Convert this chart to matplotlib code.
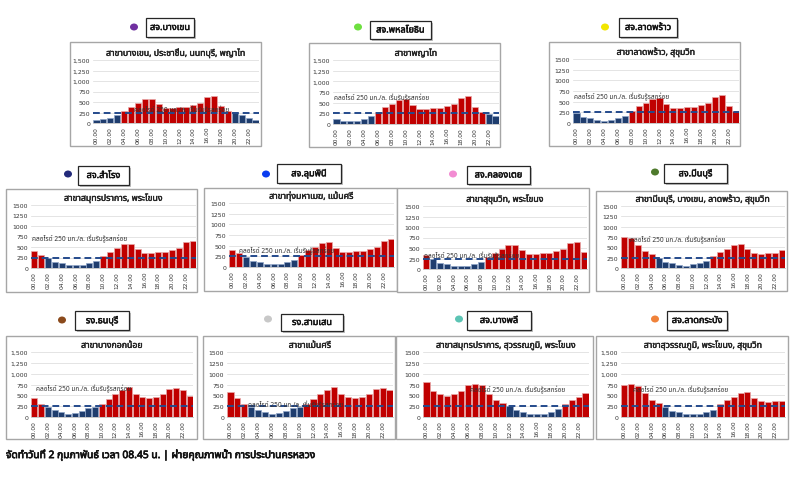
import matplotlib
matplotlib.use("Agg")
import matplotlib.pyplot as plt
from matplotlib import font_manager
import matplotlib.patheffects as pe
from matplotlib.patches import Rectangle, Ellipse
from matplotlib.ticker import FuncFormatter

W, H = 797, 481

# ---------------- data ----------------
hours = ["%02d.00" % h for h in range(24)]

station_labels = ["สจ.บางเขน", "สจ.พหลโยธิน", "สจ.ลาดพร้าว",
                  "สจ.สำโรง", "สจ.ลุมพินี", "สจ.คลองเตย", "สจ.มีนบุรี",
                  "รง.ธนบุรี", "รง.สามเสน", "สจ.บางพลี", "สจ.ลาดกระบัง"]
chart_titles = ["สาขาบางเขน, ประชาชื่น, นนทบุรี, พญาไท", "สาขาพญาไท",
                "สาขาลาดพร้าว, สุขุมวิท",
                "สาขาสมุทรปราการ, พระโขนง", "สาขาทุ่งมหาเมฆ, แม้นศรี",
                "สาขาสุขุมวิท, พระโขนง", "สาขามีนบุรี, บางเขน, ลาดพร้าว, สุขุมวิท",
                "สาขาบางกอกน้อย", "สาขาแม้นศรี",
                "สาขาสมุทรปราการ, สุวรรณภูมิ, พระโขนง",
                "สาขาสุวรรณภูมิ, พระโขนง, สุขุมวิท"]
dot_colors = ["#7030A0", "#6EE040", "#F2E600", "#232A7A", "#0A3CF0",
              "#F28CD2", "#4E7A2C", "#8B4A1C", "#C8C8C8", "#5CC4B4", "#F0823A"]

bangkhen = [60, 90, 125, 180, 290, 390, 470, 560, 580, 450, 360, 350,
            380, 380, 430, 480, 620, 650, 410, 290, 240, 180, 110, 80]
phahon = [110, 80, 60, 80, 120, 180, 290, 390, 470, 560, 580, 450,
          360, 350, 370, 370, 430, 480, 620, 650, 410, 290, 230, 180]
ladprao = [240, 150, 110, 70, 50, 80, 110, 170, 290, 390, 470, 560,
           580, 450, 360, 350, 380, 380, 430, 480, 620, 650, 410, 290]
samrong = [400, 320, 240, 150, 120, 80, 60, 80, 110, 170, 290, 390,
           470, 560, 580, 450, 360, 350, 370, 370, 430, 480, 620, 650]
lumphini = [400, 330, 245, 150, 120, 80, 60, 80, 110, 170, 290, 390,
            470, 560, 580, 450, 360, 350, 380, 380, 430, 480, 620, 650]
khlongtoei = [330, 245, 150, 110, 80, 60, 80, 110, 170, 290, 390, 470,
              560, 580, 450, 360, 350, 380, 380, 430, 480, 620, 650, 410]
minburi = [760, 720, 550, 410, 330, 240, 150, 110, 80, 60, 90, 120,
           170, 290, 390, 470, 560, 580, 450, 360, 350, 370, 370, 430]
thonburi = [440, 300, 220, 170, 120, 80, 90, 150, 200, 220, 290, 410,
            530, 630, 700, 530, 460, 440, 460, 540, 650, 680, 630, 480]
samsen = [580, 440, 310, 220, 170, 120, 80, 90, 150, 200, 220, 290,
          410, 530, 630, 700, 530, 460, 440, 460, 540, 650, 680, 630]
bangphli = [800, 590, 520, 490, 530, 610, 740, 770, 730, 540, 400, 320,
            245, 160, 120, 80, 60, 80, 120, 180, 290, 390, 470, 560]
latkrabang = [730, 760, 720, 550, 400, 320, 230, 150, 120, 80, 60, 80,
              120, 170, 290, 390, 470, 560, 580, 450, 360, 350, 370, 370]

series = [bangkhen, phahon, ladprao, samrong, lumphini, khlongtoei, minburi,
          thonburi, samsen, bangphli, latkrabang]
threshold = 250
y_ticks = [0, 250, 500, 750, 1000, 1250, 1500]
comma_ticks = [True, True, False, False, False, False, False,
               True, False, False, True]
note_text = "คลอไรด์ 250 มก./ล. เริ่มรับรู้รสกร่อย"
footer = "จัดทำวันที่ 2 กุมภาพันธ์ เวลา 08.45 น. | ฝ่ายคุณภาพน้ำ การประปานครหลวง"

# ---------------- layout (pixels) ----------------
frames = [(70, 43, 261, 147), (309, 44, 500, 148), (549, 43, 740, 147),
          (6, 190, 197, 293), (204, 189, 397, 292), (397, 189, 589, 293),
          (596, 192, 787, 292),
          (6, 337, 197, 440), (203, 337, 395, 440), (396, 337, 593, 440),
          (596, 337, 788, 440)]
plots = [(93, 61, 259, 124), (333, 61, 499, 125), (573, 60, 739, 124),
         (31, 206, 196, 269), (229, 204, 394, 268), (423, 207, 587, 270),
         (621, 207, 785, 269),
         (31, 353, 193, 418), (227, 353, 393, 418), (423, 353, 589, 418),
         (621, 353, 785, 418)]
label_boxes = [(146, 19, 194, 38), (370, 22, 431, 40), (619, 19, 677, 38),
               (78, 167, 129, 186), (277, 165, 341, 184), (467, 167, 530, 185),
               (664, 165, 727, 184),
               (75, 312, 129, 331), (281, 315, 343, 332), (467, 312, 531, 331),
               (667, 312, 727, 331)]
dots = [(134, 28), (358, 28), (605, 28), (68, 175), (266, 175), (453, 175),
        (655, 173), (62, 321), (268, 320), (459, 320), (655, 320)]
notes = [(5.5, 330), (-0.4, 640), (-0.4, 640), (-0.4, 700), (1.0, 400),
         (-0.4, 330), (0.8, 700), (0.3, 660), (2.6, 290), (6.3, 650),
         (1.3, 640)]


def find_thai_font():
    try:
        from fontTools.ttLib import TTFont
    except Exception:
        return None
    prefs = ["Noto Sans Thai", "Noto Sans Thai UI", "Tahoma", "Leelawadee UI",
             "Loma", "Garuda", "Sarabun", "Kinnari", "Norasi"]
    found = {}
    for f in font_manager.fontManager.ttflist:
        try:
            tt = TTFont(f.fname, fontNumber=0, lazy=True)
            cmap = tt.getBestCmap()
            if cmap and 0x0E01 in cmap and 0x0E33 in cmap:
                found[f.name] = True
        except Exception:
            pass
    for p in prefs:
        if p in found:
            return p
    return sorted(found)[0] if found else None


thai = find_thai_font()
thai_fams = ([thai] if thai else []) + ["DejaVu Sans"]
num_fams = ["DejaVu Sans"] + ([thai] if thai else [])
plt.rcParams["font.family"] = thai_fams

RED = "#C00000"
RED_EDGE = "#E8A8A8"
BLUE = "#1F3D6E"
BLUE_EDGE = "#8FA5C8"
LINE = "#244A8C"


def bold(c, w=0.45):
    return [pe.withStroke(linewidth=w, foreground=c)]


fig = plt.figure(figsize=(W / 100, H / 100), dpi=100)
fig.patch.set_facecolor("white")


def fr(x0, y0, x1, y1):
    return [x0 / W, 1 - y1 / H, (x1 - x0) / W, (y1 - y0) / H]


for i, vals in enumerate(series):
    fx0, fy0, fx1, fy1 = frames[i]
    fig.patches.append(Rectangle((fx0 / W, 1 - fy1 / H), (fx1 - fx0) / W,
                                 (fy1 - fy0) / H, transform=fig.transFigure,
                                 facecolor="white", edgecolor="#A6A6A6",
                                 linewidth=1.0, zorder=-2))
    ax = fig.add_axes(fr(*plots[i]))
    ax.set_zorder(5)
    ax.patch.set_alpha(0)
    cols = [RED if v > threshold else BLUE for v in vals]
    edges = [RED_EDGE if v > threshold else BLUE_EDGE for v in vals]
    ax.bar(range(24), vals, width=0.88, color=cols, edgecolor=edges,
           linewidth=0.5, zorder=2)
    ax.axhline(threshold, color=LINE, linestyle=(0, (3.5, 2)), linewidth=1.4,
               zorder=3, clip_on=False)
    ax.set_xlim(-0.5, 23.5)
    ax.set_ylim(0, 1500)
    ax.set_yticks(y_ticks)
    if comma_ticks[i]:
        ax.yaxis.set_major_formatter(FuncFormatter(lambda v, p: f"{int(v):,}"))
    else:
        ax.yaxis.set_major_formatter(FuncFormatter(lambda v, p: f"{int(v)}"))
    ax.set_xticks(range(0, 24, 2))
    ax.set_xticklabels(hours[::2], rotation=90)
    ax.tick_params(axis="y", labelsize=4.4, length=0, pad=2, labelcolor="#333333")
    ax.tick_params(axis="x", labelsize=4.2, length=0, pad=2, labelcolor="#333333")
    for t in ax.get_xticklabels() + ax.get_yticklabels():
        t.set_family(num_fams)
    ax.grid(axis="y", color="#D9D9D9", linewidth=0.5, zorder=0)
    ax.set_axisbelow(True)
    for s in ["top", "right", "left"]:
        ax.spines[s].set_visible(False)
    ax.spines["bottom"].set_color("#BFBFBF")
    ax.spines["bottom"].set_linewidth(0.6)
    ax.set_title(chart_titles[i], fontsize=6.3, fontweight="bold", pad=3,
                 color="#222222", path_effects=bold("#222222", 0.3))
    nx, ny = notes[i]
    ax.text(nx, ny, note_text, fontsize=4.7, color="#333333", zorder=4,
            va="center", ha="left")

    lx0, ly0, lx1, ly1 = label_boxes[i]
    fig.patches.append(Rectangle(((lx0 + 1.5) / W, 1 - (ly1 + 1.5) / H),
                                 (lx1 - lx0) / W, (ly1 - ly0) / H,
                                 transform=fig.transFigure, facecolor="#BFBFBF",
                                 edgecolor="none", zorder=1))
    fig.patches.append(Rectangle((lx0 / W, 1 - ly1 / H), (lx1 - lx0) / W,
                                 (ly1 - ly0) / H, transform=fig.transFigure,
                                 facecolor="white", edgecolor="#262626",
                                 linewidth=0.9, zorder=2))
    fig.text((lx0 + lx1) / 2 / W, 1 - (ly0 + ly1) / 2 / H, station_labels[i],
             ha="center", va="center", fontsize=6.6, fontweight="bold",
             color="#111111", zorder=3, path_effects=bold("#111111", 0.35))
    dx, dy = dots[i]
    fig.patches.append(Ellipse((dx / W, 1 - dy / H), 8 / W, 7 / H,
                               transform=fig.transFigure, facecolor=dot_colors[i],
                               edgecolor="none", zorder=2))

fig.text(6 / W, 1 - 456 / H, footer, ha="left", va="center", fontsize=7.4,
         fontweight="bold", color="#111111", path_effects=bold("#111111", 0.5))

fig.savefig("out.png", dpi=100, facecolor="white")
